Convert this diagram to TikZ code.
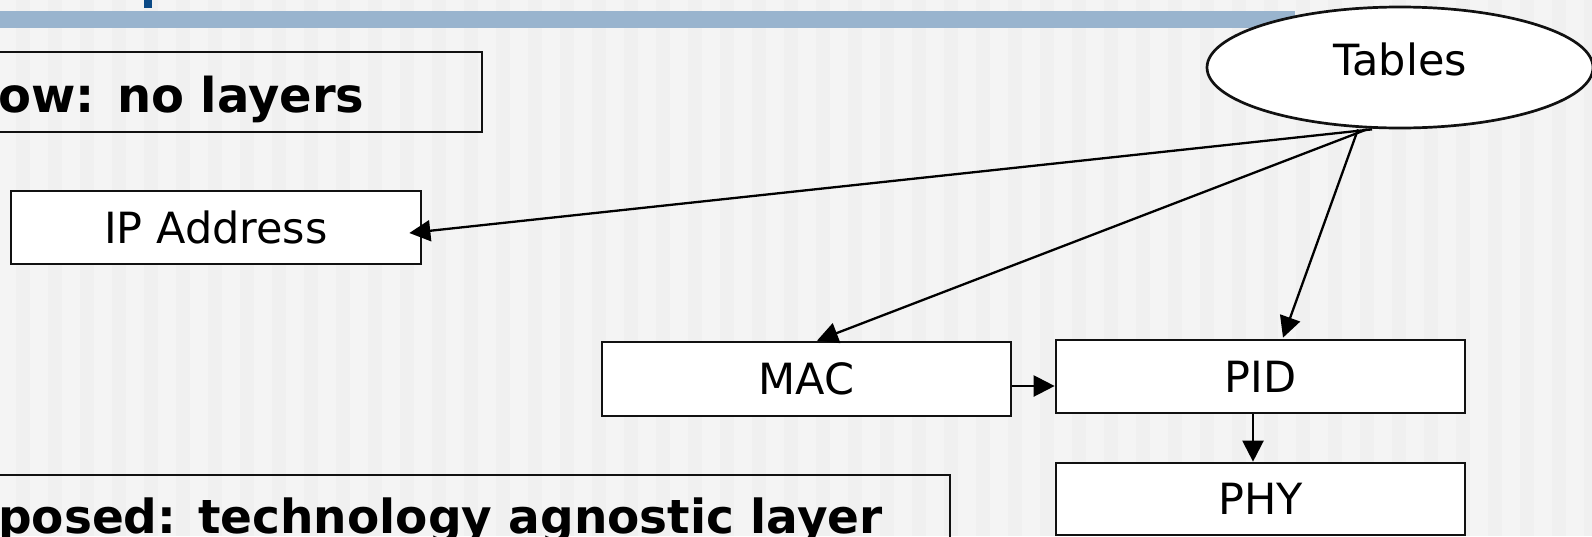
\documentclass[tikz,border=0pt]{standalone}
\usepackage{fontspec}
\setmainfont{DejaVu Sans}
\usetikzlibrary{shapes.geometric,arrows.meta,calc}
\definecolor{bgc}{HTML}{F4F4F4}
\definecolor{stripec}{HTML}{F0F0F0}
\definecolor{bandc}{HTML}{99B4CE}
\definecolor{titlec}{HTML}{0B4A86}
\definecolor{linec}{HTML}{111111}
\begin{document}
\begin{tikzpicture}[x=1pt,y=-1pt,
  box/.style={draw=linec, line width=2.7pt, fill=white, rectangle, inner sep=0pt, font=\fontsize{43}{50}\selectfont},
  framebox/.style={draw=linec, line width=2.7pt, rectangle, inner sep=0pt},
  boldtxt/.style={font=\fontsize{47}{55}\selectfont\bfseries, inner sep=0pt},
  conn/.style={draw=black, line width=2.3pt, -{Triangle[length=21pt,width=21pt]}}]
\useasboundingbox (0,0) rectangle (1592,536);
\clip (0,0) rectangle (1592,536);
\fill[bgc] (0,0) rectangle (1592,536);
\foreach \i in {0,...,49} \fill[stripec] (\i*32+16,0) rectangle ++(14,536);
\fill[bandc] (0,11) rectangle (1295,28);
\fill[titlec] (144,0) rectangle (152,8);

% framed headings
\node[framebox, minimum width=487pt, minimum height=80pt] (nowbox) at (238.5,92) {};
\node[boldtxt, font=\fontsize{48}{56}\selectfont\bfseries, anchor=base west] (nowtxt) at (-2,112) {ow: no layers};
\node[framebox, minimum width=955pt, minimum height=125pt] (propbox) at (472.5,537.5) {};
\node[boldtxt, anchor=base west] (proptxt) at (-2,533) {posed: technology agnostic layer};

% boxes
\node[box, minimum width=410pt, minimum height=73pt] (ip) at (216,227.5) {IP Address};
\node[box, minimum width=409pt, minimum height=74pt] (mac) at (806.5,379) {MAC};
\node[box, minimum width=409pt, minimum height=73pt] (pid) at (1260.5,376.5) {PID};
\node[box, minimum width=409pt, minimum height=72pt] (phy) at (1260.5,499) {PHY};
\node[ellipse, draw=linec, line width=2.7pt, fill=white, inner sep=0pt,
      minimum width=386pt, minimum height=121pt, text depth=16pt,
      font=\fontsize{43}{50}\selectfont] (tables) at (1400,67.5) {Tables};

% connectors
\draw[conn] ($(tables.south)+(-28,0)$) -- ($(ip.east)+(-13,5.5)$);
\draw[conn] ($(tables.south)+(-33,0)$) -- ($(mac.north)+(10.5,0)$);
\draw[conn] ($(tables.south)+(-42,0)$) -- ($(pid.north)+(22.5,-1)$);
\draw[conn] ($(mac.east)+(0,7)$) -- ($(pid.west)+(0,9.5)$);
\draw[conn] ($(pid.south)+(-7.5,0)$) -- ($(phy.north)+(-7.5,0)$);
\end{tikzpicture}
\end{document}
